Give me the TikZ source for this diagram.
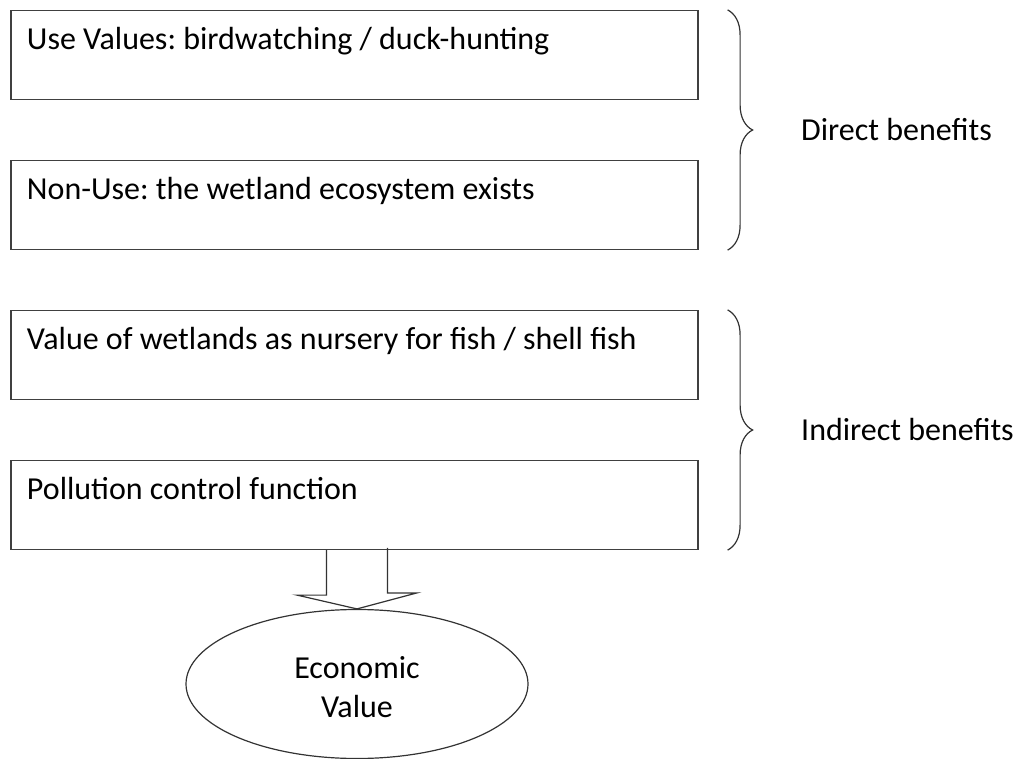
\documentclass[tikz,border=0pt]{standalone}
\usepackage{fontspec}
\setmainfont{Carlito}
\usetikzlibrary{positioning,calc,shapes.geometric,decorations.pathreplacing}
\frenchspacing

\begin{document}
\begin{tikzpicture}[x=1pt,y=-1pt,node distance=150pt,on grid,line width=1.2pt]
            \tikzstyle{box}=[draw=black!75, minimum width=687pt, minimum height=89pt, inner sep=0pt]
            \tikzstyle{txt}=[anchor=base west, inner sep=0pt, font=\fontsize{32}{39}\selectfont]
            \tikzstyle{lbl}=[anchor=west, inner sep=0pt, font=\fontsize{32}{39}\selectfont]
            \tikzstyle{brc}=[draw=black!80, decorate, decoration={brace, amplitude=25pt}]
            \useasboundingbox (0,0) rectangle (1015,759);

            \node[box] (use)     at (354.5,55)          {};
            \node[box] (nonuse)  [below = of use]       {};
            \node[box] (nursery) [below = of nonuse]    {};
            \node[box] (control) [below = of nursery]   {};

            \node[txt] (tuse)     at ($(use.north west)+(16,40)$)     {Use Values: birdwatching / duck-hunting};
            \node[txt] (tnonuse)  at ($(nonuse.north west)+(16,40)$)  {Non-Use: the wetland ecosystem exists};
            \node[txt] (tnursery) at ($(nursery.north west)+(16,40)$) {Value of wetlands as nursery for fish / shell fish};
            \node[txt] (tcontrol) at ($(control.north west)+(16,40)$) {Pollution control function};

            \node[draw=black!80, ellipse, minimum width=342pt, minimum height=149pt, inner sep=0pt, align=center,
                  font=\fontsize{32}{39}\selectfont] (econ) at (357,684) {\strut Economic\\Value};

            % braces
            \draw[brc] ($(use.north east)+(29,0)$) -- ($(nonuse.south east)+(29,0)$);
            \draw[brc] ($(nursery.north east)+(29,0)$) -- ($(control.south east)+(29,0)$);
            \node[lbl] (direct)   at ($(use.north east)!0.5!(nonuse.south east)+(102,0)$)       {Direct benefits};
            \node[lbl] (indirect) at ($(nursery.north east)!0.5!(control.south east)+(102,0)$) {Indirect benefits};

            % block arrow
            \coordinate (tip) at (econ.north);
            \draw[draw=black!80] ($(tip |- control.south)+(-30.5,0)$) -- ++(0,45) -- ++(-29.5,0) -- (tip)
                -- ++(60,-16) -- ++(-29.5,0) -- ++(0,-45);
\end{tikzpicture}
\end{document}
